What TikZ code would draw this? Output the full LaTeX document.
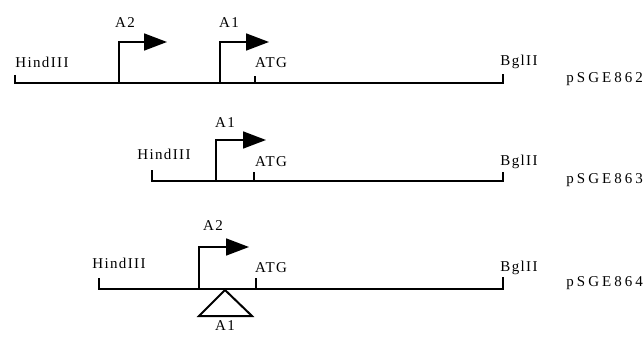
\documentclass[tikz,border=0pt]{standalone}
\usepackage{fontspec}
\setmainfont{Liberation Serif}
\usetikzlibrary{arrows.meta}
\begin{document}
\begin{tikzpicture}[x=1pt,y=-1pt,
  lbl/.style={font=\fontsize{15}{17}\selectfont\addfontfeatures{LetterSpace=9}, inner sep=0pt, anchor=base},
  plas/.style={font=\fontsize{15}{17}\selectfont\addfontfeatures{LetterSpace=20}, inner sep=0pt, anchor=base east},
  dna/.style={line width=1.3pt, line join=miter},
  tick/.style={line width=1.3pt},
  prom/.style={line width=1.7pt, line join=miter, -{Triangle[length=23pt 0,width=17pt 0]}},
  ins/.style={line width=2pt, line join=miter}]
\useasboundingbox (0,0) rectangle (644,339);
% ---------- pSGE862 ----------
\coordinate (l1) at (15,83); \coordinate (l1t) at (15,75);
\coordinate (r1) at (503,83); \coordinate (r1t) at (503,74);
\coordinate (atg1) at (255,83); \coordinate (atg1t) at (255,76);
\coordinate (p21) at (119,83); \coordinate (p21a) at (119,42); \coordinate (p21b) at (167,42);
\coordinate (p11) at (220,83); \coordinate (p11a) at (220,42); \coordinate (p11b) at (269,42);
\draw[dna] (l1t) -- (l1) -- (r1) -- (r1t);
\draw[tick] (atg1) -- (atg1t);
\draw[prom] (p21) -- (p21a) -- (p21b);
\draw[prom] (p11) -- (p11a) -- (p11b);
\node[lbl] (h1) at (42,68) {HindIII};
\node[lbl] (a21) at (125,28) {A2};
\node[lbl] (a11) at (229,28) {A1};
\node[lbl] (t1) at (271,68) {ATG};
\node[lbl] (b1) at (519,66) {BglII};
\node[plas] (n1) at (643,83) {pSGE862};
% ---------- pSGE863 ----------
\coordinate (l2) at (152,181); \coordinate (l2t) at (152,170);
\coordinate (r2) at (503,181); \coordinate (r2t) at (503,172);
\coordinate (atg2) at (254,181); \coordinate (atg2t) at (254,172);
\coordinate (p12) at (216,181); \coordinate (p12a) at (216,140); \coordinate (p12b) at (266,140);
\draw[dna] (l2t) -- (l2) -- (r2) -- (r2t);
\draw[tick] (atg2) -- (atg2t);
\draw[prom] (p12) -- (p12a) -- (p12b);
\node[lbl] (h2) at (164,159) {HindIII};
\node[lbl] (a12) at (225,128) {A1};
\node[lbl] (t2) at (271,167) {ATG};
\node[lbl] (b2) at (519,165) {BglII};
\node[plas] (n2) at (643,183) {pSGE863};
% ---------- pSGE864 ----------
\coordinate (l3) at (99,289); \coordinate (l3t) at (99,278);
\coordinate (r3) at (503,289); \coordinate (r3t) at (503,277);
\coordinate (atg3) at (256,289); \coordinate (atg3t) at (256,278);
\coordinate (p23) at (199,289); \coordinate (p23a) at (199,247); \coordinate (p23b) at (249,247);
\coordinate (tri) at (225,290); \coordinate (tril) at (199,316); \coordinate (trir) at (252,316);
\draw[dna] (l3t) -- (l3) -- (r3) -- (r3t);
\draw[tick] (atg3) -- (atg3t);
\draw[prom] (p23) -- (p23a) -- (p23b);
\draw[ins] (tri) -- (trir) -- (tril) -- cycle;
\node[lbl] (h3) at (119,268) {HindIII};
\node[lbl] (a23) at (213,230) {A2};
\node[lbl] (t3) at (271,272) {ATG};
\node[lbl] (b3) at (519,271) {BglII};
\node[lbl] (a13) at (225,330) {A1};
\node[plas] (n3) at (643,286) {pSGE864};
\end{tikzpicture}
\end{document}
